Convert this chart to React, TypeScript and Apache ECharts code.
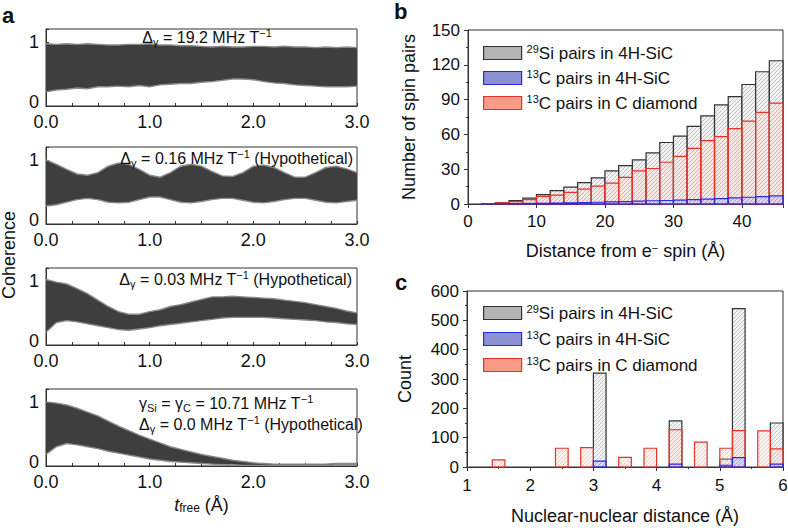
import React, { useEffect, useRef } from 'react';
import * as echarts from 'echarts';

const FONT = '"Liberation Sans", Arial, Helvetica, sans-serif';

// ---- Panel a: sample times and read envelopes (upper / lower) ----
const tA = [0, 0.1, 0.2, 0.3, 0.4, 0.5, 0.6, 0.7, 0.8, 0.9, 1.0, 1.1, 1.2, 1.3, 1.4, 1.5, 1.6, 1.7, 1.8, 1.9, 2.0, 2.1, 2.2, 2.3, 2.4, 2.5, 2.6, 2.7, 2.8, 2.9, 3.0];
const up1 = [0.97, 0.96, 0.97, 0.96, 0.97, 0.96, 0.95, 0.95, 0.96, 0.96, 0.97, 0.95, 0.95, 0.94, 0.94, 0.93, 0.92, 0.93, 0.92, 0.92, 0.93, 0.93, 0.92, 0.93, 0.92, 0.92, 0.91, 0.92, 0.91, 0.92, 0.91];
const lo1 = [0.22, 0.25, 0.26, 0.28, 0.27, 0.3, 0.3, 0.31, 0.3, 0.32, 0.3, 0.33, 0.34, 0.35, 0.35, 0.37, 0.38, 0.4, 0.42, 0.42, 0.41, 0.38, 0.36, 0.35, 0.33, 0.32, 0.31, 0.3, 0.3, 0.3, 0.31];
const up2 = [1.0, 0.93, 0.85, 0.78, 0.76, 0.8, 0.9, 0.95, 0.93, 0.85, 0.76, 0.73, 0.8, 0.9, 0.93, 0.9, 0.82, 0.75, 0.74, 0.8, 0.9, 0.92, 0.88, 0.8, 0.73, 0.73, 0.8, 0.88, 0.9, 0.86, 0.8];
const lo2 = [0.28, 0.3, 0.34, 0.38, 0.4, 0.38, 0.34, 0.33, 0.34, 0.38, 0.42, 0.42, 0.38, 0.34, 0.33, 0.35, 0.38, 0.4, 0.4, 0.37, 0.34, 0.33, 0.35, 0.38, 0.4, 0.4, 0.37, 0.34, 0.33, 0.35, 0.37];
const up3 = [1.02, 0.98, 0.95, 0.88, 0.8, 0.7, 0.6, 0.52, 0.48, 0.48, 0.52, 0.55, 0.6, 0.63, 0.67, 0.71, 0.75, 0.75, 0.76, 0.75, 0.74, 0.73, 0.72, 0.7, 0.68, 0.66, 0.63, 0.6, 0.57, 0.53, 0.5];
const lo3 = [0.2, 0.35, 0.38, 0.36, 0.33, 0.3, 0.27, 0.24, 0.23, 0.25, 0.27, 0.3, 0.32, 0.34, 0.36, 0.38, 0.4, 0.42, 0.43, 0.43, 0.43, 0.43, 0.42, 0.41, 0.4, 0.39, 0.38, 0.36, 0.35, 0.33, 0.32];
const up4 = [1.0, 0.98, 0.95, 0.9, 0.84, 0.78, 0.7, 0.62, 0.55, 0.48, 0.42, 0.36, 0.3, 0.26, 0.22, 0.18, 0.15, 0.12, 0.09, 0.07, 0.05, 0.04, 0.03, 0.03, 0.03, 0.03, 0.03, 0.03, 0.04, 0.04, 0.04];
const lo4 = [0.18, 0.3, 0.35, 0.33, 0.3, 0.27, 0.23, 0.2, 0.17, 0.14, 0.11, 0.09, 0.07, 0.06, 0.05, 0.04, 0.03, 0.02, 0.02, 0.01, 0.01, 0.01, 0.01, 0.01, 0.01, 0.01, 0.01, 0.01, 0.02, 0.02, 0.02];

// ---- Panel b: histogram bins (left edges, width 2 Å) ----
const bBinLeft = [2, 4, 6, 8, 10, 12, 14, 16, 18, 20, 22, 24, 26, 28, 30, 32, 34, 36, 38, 40, 42, 44];
const bBinWidth = 2;
const bSi = [0.3, 1, 3, 5, 8, 11.5, 14.5, 18.5, 22.5, 28.5, 33, 38, 44, 53, 58.5, 67, 76, 85.5, 92.5, 103, 114, 123.5];
const bC = [0.1, 0.2, 0.3, 0.5, 0.6, 0.8, 1, 1.2, 1.5, 1.8, 2, 2.4, 2.8, 3, 3.3, 3.7, 4.2, 4.6, 5.2, 5.8, 6.4, 7];
const bDia = [0.3, 1, 2, 3.7, 6.5, 7.7, 10, 12.8, 15.4, 18, 23, 28.6, 30.6, 36, 41, 48, 54.6, 58, 65, 71.4, 79, 87];

// ---- Panel c: bins (left edges, width 0.2 Å) ----
const cBinWidth = 0.2;
const cDiaLeft = [1.4, 2.4, 2.8, 3.4, 3.8, 4.2, 4.6, 5.0, 5.2, 5.6, 5.8];
const cDia = [24, 64, 66, 33, 64, 127, 85, 64, 124, 123, 62];
const cSiCLeft = [3.0, 4.2, 5.0, 5.2, 5.8];
const cSi = [320, 157, 27, 540, 150];
const cC = [20, 10, 6, 32, 10];

const legendNames = ['29Si pairs in 4H-SiC', '13C pairs in 4H-SiC', '13C pairs in C diamond'];
const legendRich = ['{p|29}Si pairs in 4H-SiC', '{p|13}C pairs in 4H-SiC', '{p|13}C pairs in C diamond'];

const aTexts = [
  'Δ{s|γ} = 19.2 MHz T{p|−1}',
  'Δ{s|γ} = 0.16 MHz T{p|−1} (Hypothetical)',
  'Δ{s|γ} = 0.03 MHz T{p|−1} (Hypothetical)',
  'γ{s|Si} = γ{s|C} = 10.71 MHz T{p|−1}',
  'Δ{s|γ} = 0.0 MHz T{p|−1} (Hypothetical)',
];

const richSubSup = {
  s: { fontSize: 11, fontFamily: FONT, verticalAlign: 'bottom', lineHeight: 11, color: '#111' },
  p: { fontSize: 11, fontFamily: FONT, verticalAlign: 'top', lineHeight: 11, color: '#111' },
  i: { fontSize: 18, fontFamily: FONT, fontStyle: 'italic', color: '#111' },
};

function hatchBar(width: number, fill: string, hatch: string, stroke: string) {
  return (params: any, api: any) => {
    const left = api.value(0);
    const v = api.value(1);
    const p0 = api.coord([left, 0]);
    const p1 = api.coord([left + width, v]);
    const xa = Math.min(p0[0], p1[0]);
    const xb = Math.max(p0[0], p1[0]);
    const ya = Math.min(p0[1], p1[1]);
    const yb = Math.max(p0[1], p1[1]);
    const children: any[] = [
      { type: 'rect', shape: { x: xa, y: ya, width: xb - xa, height: yb - ya }, style: { fill, stroke: 'none' } },
    ];
    const step = 4;
    const cStart = Math.ceil((xa + ya) / step) * step;
    for (let c = cStart; c <= xb + yb; c += step) {
      const sx = Math.max(xa, c - yb);
      const ex = Math.min(xb, c - ya);
      if (ex > sx) {
        children.push({ type: 'line', shape: { x1: sx, y1: c - sx, x2: ex, y2: c - ex }, style: { stroke: hatch, lineWidth: 0.6 } });
      }
    }
    children.push({ type: 'rect', shape: { x: xa, y: ya, width: xb - xa, height: yb - ya }, style: { fill: 'none', stroke, lineWidth: 1.2 } });
    return { type: 'group', children };
  };
}

function bandRenderer(up: number[], lo: number[]) {
  return (params: any, api: any) => {
    if (params.dataIndex !== 0) return null;
    const upPts = tA.map((t, k) => api.coord([t, up[k]]));
    const loPts = tA.map((t, k) => api.coord([t, lo[k]])).reverse();
    return {
      type: 'group',
      children: [
        { type: 'polygon', shape: { points: upPts.concat(loPts) }, style: { fill: '#3e3e3e', stroke: 'none' } },
        { type: 'polyline', shape: { points: upPts }, style: { stroke: '#8a8a8a', lineWidth: 1.4, fill: 'none' } },
        { type: 'polyline', shape: { points: loPts }, style: { stroke: '#8a8a8a', lineWidth: 1.4, fill: 'none' } },
      ],
    };
  };
}

export default function App() {
  const ref = useRef<HTMLDivElement>(null);
  useEffect(() => {
    document.body.style.margin = '0';
    if (!ref.current) return;
    const chart = echarts.init(ref.current, null, { renderer: 'svg' });

    const aTops = [29, 147, 268, 389];
    const aUp = [up1, up2, up3, up4];
    const aLo = [lo1, lo2, lo3, lo4];
    const grids: any[] = aTops.map((t) => ({ left: 46, width: 311, top: t, height: 77, show: true, borderColor: '#333', borderWidth: 1, outerBoundsMode: 'none' }));
    grids.push({ left: 468, width: 315, top: 30, height: 174, show: true, borderColor: '#333', borderWidth: 1, outerBoundsMode: 'none' });
    grids.push({ left: 467, width: 316, top: 291, height: 176, show: true, borderColor: '#333', borderWidth: 1, outerBoundsMode: 'none' });

    const tickLabel = { fontSize: 17, color: '#111', fontFamily: FONT };
    const xAxes: any[] = aTops.map((_, i) => ({
      type: 'value', gridIndex: i, min: 0, max: 3, interval: 0.25,
      axisLine: { show: true, lineStyle: { color: '#333' } },
      axisTick: { show: true, inside: true, length: 3, lineStyle: { color: '#333' } },
      splitLine: { show: false },
      axisLabel: { ...tickLabel, fontSize: 18, lineHeight: 16, margin: 8, formatter: (v: number) => (Math.abs(v - Math.round(v)) < 1e-6 ? v.toFixed(1) : '') },
      ...(i === 3 ? {
        name: '{i|t}{s|free} (Å)', nameLocation: 'middle', nameGap: 30,
        nameTextStyle: { fontSize: 18, color: '#111', fontFamily: FONT, rich: { ...richSubSup, s: { ...richSubSup.s, fontSize: 12 } } },
      } : {}),
    }));
    const yAxes: any[] = aTops.map((_, i) => ({
      type: 'value', gridIndex: i, min: 0, max: 1.2, interval: 1,
      axisLine: { show: true, lineStyle: { color: '#333' } },
      axisTick: { show: true, inside: true, length: 3, lineStyle: { color: '#333' } },
      splitLine: { show: false },
      axisLabel: {
        ...tickLabel, fontSize: 18, lineHeight: 14, margin: 7,
        formatter: (v: number) => (v === 0 ? '{z|0}' : v === 1 ? '1' : ''),
        rich: { z: { fontSize: 18, fontFamily: FONT, color: '#111', lineHeight: 14, padding: [0, 0, 8, 0] } },
      },
    }));
    // panel b
    xAxes.push({
      type: 'value', gridIndex: 4, min: 0, max: 46, interval: 10,
      axisLine: { show: true, lineStyle: { color: '#333' } },
      axisTick: { show: true, length: 4, lineStyle: { color: '#333' } },
      splitLine: { show: false },
      axisLabel: { ...tickLabel, margin: 9, formatter: (v: number) => (v % 10 === 0 ? String(v) : '') },
      name: 'Distance from e{p|−} spin (Å)', nameLocation: 'middle', nameGap: 38,
      nameTextStyle: { fontSize: 18, color: '#111', fontFamily: FONT, rich: richSubSup },
    });
    yAxes.push({
      type: 'value', gridIndex: 4, min: 0, max: 150, interval: 30,
      axisLine: { show: true, lineStyle: { color: '#333' } },
      axisTick: { show: true, length: 4, lineStyle: { color: '#333' } },
      minorTick: { show: true, splitNumber: 2, length: 2, lineStyle: { color: '#333' } },
      splitLine: { show: false },
      axisLabel: { ...tickLabel, margin: 8 },
      name: 'Number of spin pairs', nameLocation: 'middle', nameGap: 50,
      nameTextStyle: { fontSize: 18, color: '#111', fontFamily: FONT },
    });
    // panel c
    xAxes.push({
      type: 'value', gridIndex: 5, min: 1, max: 6, interval: 1,
      axisLine: { show: true, lineStyle: { color: '#333' } },
      axisTick: { show: true, length: 4, lineStyle: { color: '#333' } },
      minorTick: { show: true, splitNumber: 2, length: 2, lineStyle: { color: '#333' } },
      splitLine: { show: false },
      axisLabel: { ...tickLabel, margin: 10 },
      name: 'Nuclear-nuclear distance (Å)', nameLocation: 'middle', nameGap: 40,
      nameTextStyle: { fontSize: 18, color: '#111', fontFamily: FONT },
    });
    yAxes.push({
      type: 'value', gridIndex: 5, min: 0, max: 600, interval: 100,
      axisLine: { show: true, lineStyle: { color: '#333' } },
      axisTick: { show: true, length: 4, lineStyle: { color: '#333' } },
      minorTick: { show: true, splitNumber: 2, length: 2, lineStyle: { color: '#333' } },
      splitLine: { show: false },
      axisLabel: { ...tickLabel, margin: 8 },
      name: 'Count', nameLocation: 'middle', nameGap: 53,
      nameTextStyle: { fontSize: 18, color: '#111', fontFamily: FONT },
    });

    const series: any[] = [];
    aTops.forEach((_, i) => {
      series.push({
        type: 'custom', xAxisIndex: i, yAxisIndex: i, silent: true, encode: { x: 0, y: [1, 2] },
        data: tA.map((t, k) => [t, aUp[i][k], aLo[i][k]]),
        renderItem: bandRenderer(aUp[i], aLo[i]),
      });
    });

    const greyFill = 'rgba(238,238,238,0.7)';
    const redFill = 'rgba(252,205,195,0.25)';
    const blueFill = 'rgba(170,170,245,0.3)';
    // panel b
    series.push({ type: 'custom', name: legendNames[0], xAxisIndex: 4, yAxisIndex: 4, encode: { x: 0, y: 1 }, itemStyle: { color: '#b4b4b4' },
      data: bBinLeft.map((x, k) => [x, bSi[k]]), renderItem: hatchBar(bBinWidth, greyFill, '#9c9c9c', '#333') });
    series.push({ type: 'custom', name: legendNames[2], xAxisIndex: 4, yAxisIndex: 4, encode: { x: 0, y: 1 }, itemStyle: { color: '#f79a88' },
      data: bBinLeft.map((x, k) => [x, bDia[k]]), renderItem: hatchBar(bBinWidth, redFill, '#e0a4a0', '#e8302a') });
    series.push({ type: 'custom', name: legendNames[1], xAxisIndex: 4, yAxisIndex: 4, encode: { x: 0, y: 1 }, itemStyle: { color: '#8d91d3' },
      data: bBinLeft.map((x, k) => [x, bC[k]]), renderItem: hatchBar(bBinWidth, blueFill, '#9a9ae6', '#2828e6') });
    // panel c
    series.push({ type: 'custom', name: legendNames[0], xAxisIndex: 5, yAxisIndex: 5, encode: { x: 0, y: 1 }, itemStyle: { color: '#b4b4b4' },
      data: cSiCLeft.map((x, k) => [x, cSi[k]]), renderItem: hatchBar(cBinWidth, greyFill, '#a8a8a8', '#333') });
    series.push({ type: 'custom', name: legendNames[2], xAxisIndex: 5, yAxisIndex: 5, encode: { x: 0, y: 1 }, itemStyle: { color: '#f79a88' },
      data: cDiaLeft.map((x, k) => [x, cDia[k]]), renderItem: hatchBar(cBinWidth, redFill, '#f0b4ac', '#e8302a') });
    series.push({ type: 'custom', name: legendNames[1], xAxisIndex: 5, yAxisIndex: 5, encode: { x: 0, y: 1 }, itemStyle: { color: '#8d91d3' },
      data: cSiCLeft.map((x, k) => [x, cC[k]]), renderItem: hatchBar(cBinWidth, blueFill, '#9a9ae6', '#2828e6') });

    const legendItemStyles = [
      { color: '#b4b4b4', borderColor: '#333', borderWidth: 1.2 },
      { color: '#8d91d3', borderColor: '#2828e6', borderWidth: 1.2 },
      { color: '#f79a88', borderColor: '#e8302a', borderWidth: 1.2 },
    ];
    const legendBase = {
      orient: 'vertical', icon: 'rect', itemWidth: 38, itemHeight: 13, selectedMode: false,
      data: legendNames.map((n, k) => ({ name: n, itemStyle: legendItemStyles[k] })),
      formatter: (n: string) => legendRich[legendNames.indexOf(n)],
      textStyle: { fontSize: 17, color: '#111', fontFamily: FONT, lineHeight: 20, rich: richSubSup },
    };

    const txt = (text: string, x: number, y: number, align: string, extra: any = {}) => ({
      type: 'text', x, y, silent: true, z: 100,
      style: { text, fontSize: 16, fontFamily: FONT, fill: '#111', lineHeight: 20, textAlign: align, textVerticalAlign: 'middle', rich: richSubSup, ...extra },
    });

    chart.setOption({
      animation: false,
      backgroundColor: '#fff',
      grid: grids,
      xAxis: xAxes,
      yAxis: yAxes,
      series,
      legend: [
        { ...legendBase, left: 478, top: 38, itemGap: 5 },
        { ...legendBase, left: 478, top: 298, itemGap: 6 },
      ],
      graphic: [
        txt('a', 2, 15, 'left', { fontSize: 22, fontWeight: 'bold' }),
        txt('b', 394, 11, 'left', { fontSize: 22, fontWeight: 'bold' }),
        txt('c', 395, 282, 'left', { fontSize: 22, fontWeight: 'bold' }),
        { type: 'text', x: 9, y: 255, rotation: Math.PI / 2, silent: true, z: 100,
          style: { text: 'Coherence', fontSize: 18, fontFamily: FONT, fill: '#111', textAlign: 'center', textVerticalAlign: 'middle' } },
        txt(aTexts[0], 207, 37, 'center'),
        txt(aTexts[1], 353, 158, 'right'),
        txt(aTexts[2], 352, 279, 'right'),
        txt(aTexts[3], 139, 403, 'left'),
        txt(aTexts[4], 139, 424, 'left'),
      ],
    });
    return () => chart.dispose();
  }, []);
  return <div ref={ref} style={{ width: 788, height: 528 }} />;
}
